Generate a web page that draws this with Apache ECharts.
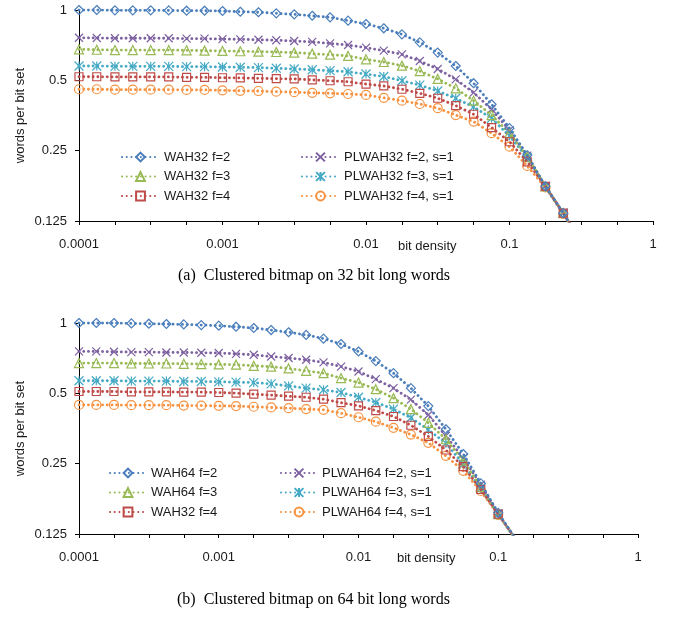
<!DOCTYPE html>
<html>
<head>
<meta charset="utf-8">
<script src="https://cdn.jsdelivr.net/npm/echarts@6/dist/echarts.min.js"></script>
<style>
html,body{margin:0;padding:0;background:#fff;}
#chart{width:681px;height:619px;}
</style>
</head>
<body>
<div id="chart"></div>
<script>
// ---- data ----
const densities = [
  0.0001, 0.000133, 0.000178, 0.000237, 0.000316, 0.000422, 0.000562, 0.00075,
  0.001, 0.00133, 0.00178, 0.00237, 0.00316, 0.00422, 0.00562, 0.0075,
  0.01, 0.0133, 0.0178, 0.0237, 0.0316, 0.0422, 0.0562, 0.075,
  0.1, 0.133, 0.178, 0.237, 0.316
];
const xTickLabels = ['0.0001', '0.001', '0.01', '0.1', '1'];
const yTickLabels = ['0.125', '0.25', '0.5', '1'];

// (a) 32 bit words
const wah32_f2   = [1.000,1.000,0.997,0.997,0.997,0.996,0.993,0.993,0.990,0.983,0.978,0.968,0.958,0.945,0.930,0.900,0.871,0.835,0.787,0.727,0.657,0.576,0.486,0.395,0.312,0.239,0.176,0.135,0.102];
const wah32_f4   = [0.518,0.518,0.517,0.517,0.517,0.517,0.515,0.515,0.513,0.512,0.510,0.508,0.507,0.502,0.498,0.493,0.482,0.473,0.458,0.440,0.419,0.390,0.358,0.314,0.273,0.224,0.176,0.135,0.102];
const wah32_f3   = [0.679,0.676,0.674,0.674,0.674,0.674,0.672,0.670,0.668,0.666,0.663,0.661,0.657,0.650,0.644,0.636,0.615,0.599,0.578,0.548,0.507,0.462,0.409,0.355,0.297,0.236,0.176,0.135,0.102];
const plwah32_f2 = [0.761,0.759,0.757,0.757,0.757,0.757,0.754,0.754,0.751,0.749,0.746,0.742,0.737,0.730,0.720,0.708,0.690,0.670,0.646,0.605,0.559,0.505,0.443,0.376,0.306,0.238,0.176,0.135,0.102];
const plwah32_f3 = [0.576,0.576,0.574,0.574,0.574,0.574,0.572,0.572,0.570,0.569,0.567,0.563,0.559,0.555,0.550,0.544,0.532,0.519,0.498,0.477,0.450,0.419,0.385,0.344,0.289,0.233,0.176,0.135,0.102];
const plwah32_f4 = [0.458,0.458,0.456,0.456,0.456,0.456,0.455,0.455,0.453,0.451,0.450,0.447,0.445,0.442,0.440,0.437,0.433,0.421,0.409,0.396,0.380,0.355,0.333,0.297,0.260,0.215,0.174,0.134,0.102];

// (b) 64 bit words
const wah64_f2   = [1.000,1.000,1.000,0.996,0.993,0.990,0.986,0.980,0.974,0.964,0.952,0.933,0.913,0.889,0.857,0.813,0.755,0.687,0.610,0.526,0.441,0.351,0.275,0.206,0.154,0.119];
const wah64_f4   = [0.509,0.509,0.509,0.507,0.507,0.507,0.506,0.506,0.504,0.501,0.496,0.491,0.486,0.481,0.472,0.456,0.442,0.422,0.398,0.365,0.327,0.286,0.243,0.194,0.152,0.119];
const wah64_f3   = [0.674,0.674,0.674,0.671,0.671,0.671,0.669,0.667,0.665,0.663,0.656,0.650,0.639,0.624,0.610,0.581,0.556,0.521,0.477,0.428,0.374,0.318,0.258,0.199,0.152,0.119];
const plwah64_f2 = [0.756,0.756,0.753,0.751,0.751,0.748,0.748,0.746,0.744,0.738,0.731,0.719,0.708,0.696,0.678,0.651,0.620,0.575,0.526,0.470,0.404,0.329,0.264,0.203,0.153,0.119];
const plwah64_f3 = [0.566,0.566,0.566,0.564,0.564,0.564,0.562,0.562,0.560,0.558,0.556,0.549,0.538,0.526,0.518,0.504,0.481,0.457,0.428,0.393,0.349,0.306,0.249,0.196,0.152,0.119];
const plwah64_f4 = [0.446,0.446,0.446,0.445,0.445,0.445,0.443,0.443,0.442,0.441,0.438,0.435,0.432,0.428,0.425,0.411,0.395,0.378,0.356,0.333,0.307,0.270,0.233,0.191,0.151,0.119];

const namesA = ['WAH32 f=2','WAH32 f=4','WAH32 f=3','PLWAH32 f=2, s=1','PLWAH32 f=3, s=1','PLWAH32 f=4, s=1'];
const namesB = ['WAH64 f=2','WAH32 f=4','WAH64 f=3','PLWAH64 f=2, s=1','PLWAH64 f=3, s=1','PLWAH64 f=4, s=1'];
const valuesA = [wah32_f2, wah32_f4, wah32_f3, plwah32_f2, plwah32_f3, plwah32_f4];
const valuesB = [wah64_f2, wah64_f4, wah64_f3, plwah64_f2, plwah64_f3, plwah64_f4];

// ---- styles ----
const colors = ['#4A7EBB','#BE4B48','#98B954','#7D60A0','#46AAC5','#F69240'];
const symbols = [
  'diamond', 'rect', 'triangle',
  'path://M0,0L10,10M10,0L0,10',
  'path://M5,0L5,10M0,0L10,10M10,0L0,10',
  'circle'
];
const symbolSizes = [9, 8, 9, 8, 9, 9];
const FONT = '"Liberation Sans", Arial, sans-serif';
const TXT = '#1a1a1a';

function makeSeries(names, values, idx) {
  return names.map((n, i) => ({
    name: n,
    type: 'line',
    xAxisIndex: idx,
    yAxisIndex: idx,
    data: values[i].map((v, k) => [densities[k], v]),
    symbol: symbols[i],
    symbolSize: symbolSizes[i],
    showAllSymbol: true,
    clip: true,
    lineStyle: { color: colors[i], width: 2.8, type: [0.1, 4.6], cap: 'round' },
    itemStyle: { color: 'rgba(255,255,255,0)', borderColor: colors[i], borderWidth: 1.2 },
    emphasis: { disabled: true },
    z: 10 - i
  }));
}

function xAxisDef(idx) {
  return {
    type: 'log', logBase: 10, gridIndex: idx, min: 0.0001, max: 1, interval: 0.25,
    axisLine: { lineStyle: { color: '#000', width: 1 } },
    axisTick: { show: true, length: 4, lineStyle: { color: '#000' } },
    splitLine: { show: false },
    axisLabel: {
      color: TXT, fontSize: 13, fontFamily: FONT, margin: 17,
      showMinLabel: true, showMaxLabel: true, hideOverlap: false,
      formatter: function (v) {
        const e = Math.log10(v);
        if (Math.abs(e - Math.round(e)) < 1e-6) return xTickLabels[Math.round(e) + 4] || '';
        return '';
      }
    }
  };
}
function yAxisDef(idx) {
  return {
    type: 'log', logBase: 2, gridIndex: idx, min: 0.125, max: 1, interval: 1,
    name: 'words per bit set', nameLocation: 'middle', nameGap: 52, nameMoveOverlap: false,
    nameTextStyle: { color: TXT, fontSize: 13, fontFamily: FONT },
    axisLine: { show: true, lineStyle: { color: '#000', width: 1 } },
    axisTick: { show: true, length: 4, lineStyle: { color: '#000' } },
    splitLine: { show: false },
    axisLabel: {
      color: TXT, fontSize: 13, fontFamily: FONT, margin: 12,
      showMinLabel: true, showMaxLabel: true,
      formatter: function (v) {
        const e = Math.round(Math.log2(v));
        return yTickLabels[e + 3] || '';
      }
    }
  };
}
function legendDef(data, left, top, w) {
  return {
    data: data, left: left, top: top, orient: 'vertical',
    itemWidth: w, itemHeight: 11, itemGap: 5.5, selectedMode: false,
    textStyle: { color: TXT, fontSize: 13, fontFamily: FONT, lineHeight: 14 }
  };
}

const option = {
  backgroundColor: '#fff',
  animation: false,
  grid: [
    { left: 79, top: 10, width: 574, height: 211 },
    { left: 79, top: 323, width: 559, height: 211 }
  ],
  xAxis: [xAxisDef(0), xAxisDef(1)],
  yAxis: [yAxisDef(0), yAxisDef(1)],
  legend: [
    legendDef([namesA[0], namesA[2], namesA[1]], 116, 145, 37),
    legendDef([namesA[3], namesA[4], namesA[5]], 296, 145, 37),
    legendDef([namesB[0], namesB[2], namesB[1]], 104, 461, 36),
    legendDef([namesB[3], namesB[4], namesB[5]], 275, 461, 36)
  ],
  graphic: [
    { type: 'text', left: 398, top: 240, style: { text: 'bit density', fill: TXT, font: '13px ' + FONT } },
    { type: 'text', left: 397, top: 552, style: { text: 'bit density', fill: TXT, font: '13px ' + FONT } },
    { type: 'text', left: 178, top: 268, style: { text: '(a)  Clustered bitmap on 32 bit long words', fill: '#000', font: '16px "Liberation Serif", "Times New Roman", serif' } },
    { type: 'text', left: 177, top: 592, style: { text: '(b)  Clustered bitmap on 64 bit long words', fill: '#000', font: '16px "Liberation Serif", "Times New Roman", serif' } }
  ],
  series: makeSeries(namesA, valuesA, 0).concat(makeSeries(namesB, valuesB, 1))
};

const chart = echarts.init(document.getElementById('chart'), null, { renderer: 'canvas' });
chart.setOption(option);
</script>
</body>
</html>
